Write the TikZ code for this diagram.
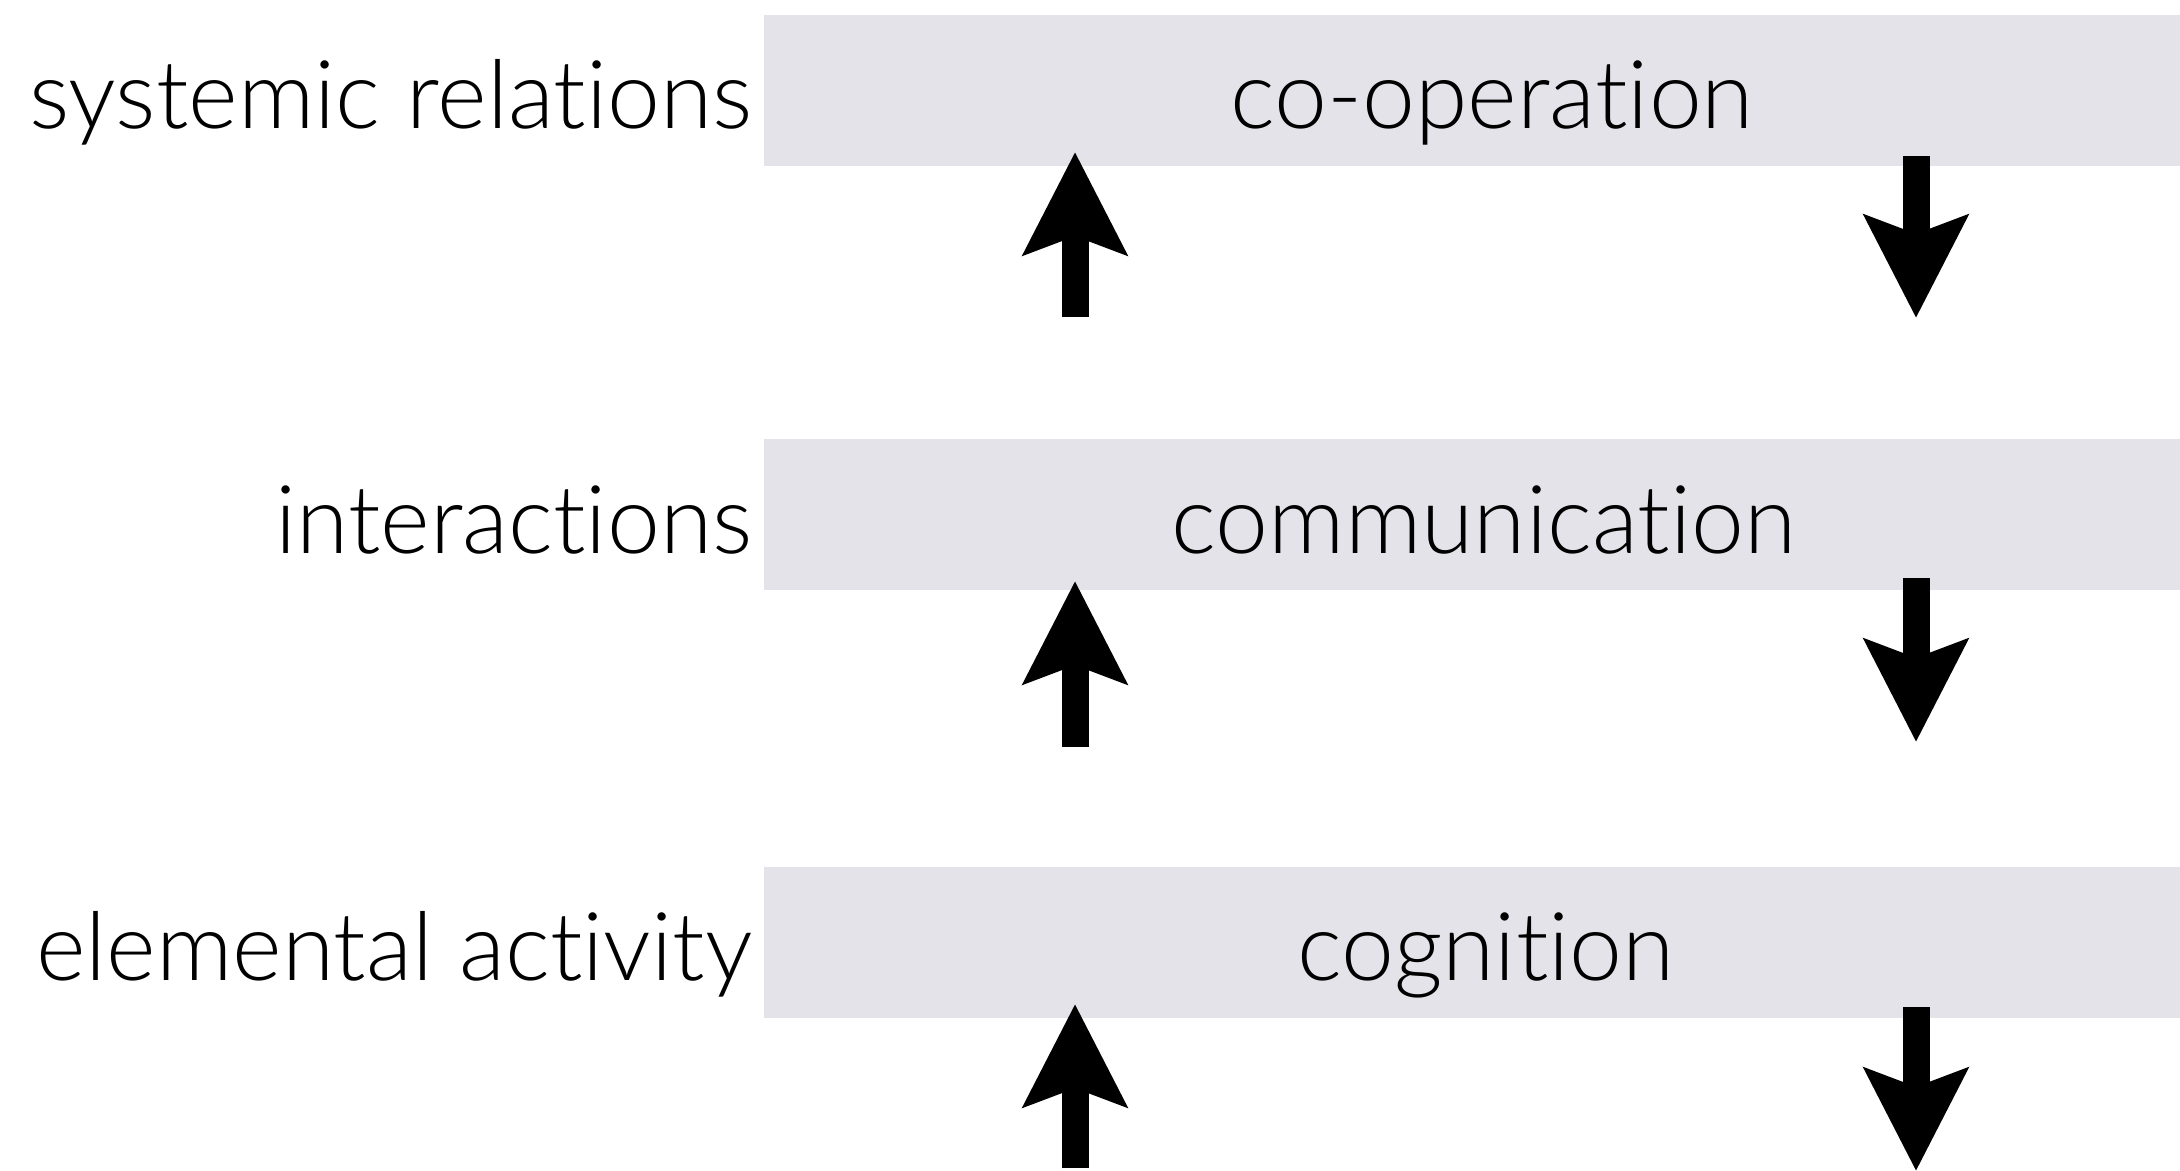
\documentclass[tikz,border=0pt]{standalone}
\usepackage{fontspec}
\setmainfont{Lato Light}[Ligatures={NoCommon,NoRare,NoContextual}]
\usetikzlibrary{arrows.meta}
\definecolor{bandgrey}{HTML}{E3E3E9}
\begin{document}
\begin{tikzpicture}[x=0.01cm,y=-0.01cm,
  band/.style={fill=bandgrey, draw=none, minimum width=14.17cm, minimum height=1.51cm, inner sep=0, anchor=north west},
  lbl/.style={font=\fontsize{27}{29}\selectfont, inner sep=0},
  flow/.style={line width=0.27cm, -{Stealth[length=1.02cm,width=1.02cm,inset=0.18cm]}}]
\useasboundingbox (0,0) rectangle (2180,1170);
% bands
\node[band] (b1) at (763,14) {};
\node[band] (b2) at (763,438) {};
\node[band] (b3) at (763,866) {};
% band texts
\node[lbl, anchor=base] (t1) at (1492,129) {co-operation};
\node[lbl, anchor=base] (t2) at (1484,553) {communication};
\node[lbl, anchor=base] (t3) at (1486,980) {cognition};
% left labels
\node[lbl, anchor=base east] (l1) at (753,129) {systemic relations};
\node[lbl, anchor=base east] (l2) at (753,553) {interactions};
\node[lbl, anchor=base east] (l3) at (753,980) {elemental activity};
% arrow end points
\coordinate (u1s) at (1075,317); \coordinate (u1e) at (1075,152);
\coordinate (d1s) at (1916,156); \coordinate (d1e) at (1916,318);
\coordinate (u2s) at (1075,747); \coordinate (u2e) at (1075,581);
\coordinate (d2s) at (1916,578); \coordinate (d2e) at (1916,742);
\coordinate (u3s) at (1075,1168); \coordinate (u3e) at (1075,1004);
\coordinate (d3s) at (1916,1007); \coordinate (d3e) at (1916,1171);
\draw[flow] (u1s) -- (u1e);
\draw[flow] (d1s) -- (d1e);
\draw[flow] (u2s) -- (u2e);
\draw[flow] (d2s) -- (d2e);
\draw[flow] (u3s) -- (u3e);
\draw[flow] (d3s) -- (d3e);
\end{tikzpicture}
\end{document}
